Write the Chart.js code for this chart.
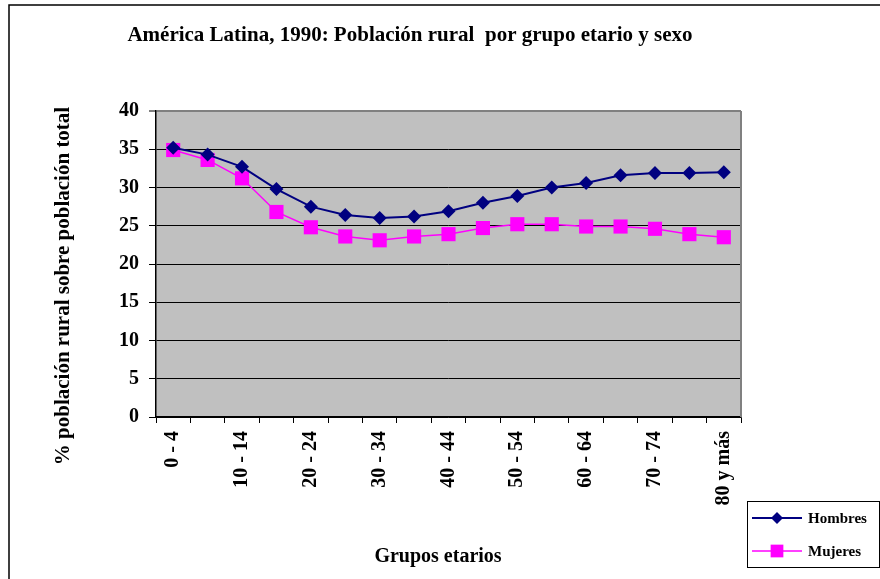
<!DOCTYPE html>
<html>
<head>
<meta charset="utf-8">
<script src="https://cdn.jsdelivr.net/npm/chart.js@4"></script>
<style>
  html, body { margin: 0; padding: 0; background: #fff; }
  #wrap { position: relative; width: 880px; height: 579px; }
</style>
</head>
<body>
<div id="wrap"><canvas id="chart" width="880" height="579"></canvas></div>
<script>
const TITLE = 'América Latina, 1990: Población rural  por grupo etario y sexo';
const Y_TITLE = '% población rural sobre población total';
const X_TITLE = 'Grupos etarios';

const GROUPS = ['0 - 4', '5 - 9', '10 - 14', '15 - 19', '20 - 24', '25 - 29', '30 - 34', '35 - 39',
  '40 - 44', '45 - 49', '50 - 54', '55 - 59', '60 - 64', '65 - 69', '70 - 74', '75 - 79', '80 y más'];
const HOMBRES = [35.2, 34.3, 32.7, 29.8, 27.5, 26.4, 26.0, 26.2, 26.9, 28.0, 28.9, 30.0, 30.6, 31.6, 31.9, 31.9, 32.0];
const MUJERES = [34.9, 33.6, 31.2, 26.8, 24.8, 23.6, 23.1, 23.6, 23.9, 24.7, 25.2, 25.2, 24.9, 24.9, 24.6, 23.9, 23.5];
const Y_TICKS = [0, 5, 10, 15, 20, 25, 30, 35, 40];

const FONT = "'Liberation Serif', 'Times New Roman', serif";

// background, frame, titles, legend, outer border
const decor = {
  id: 'decor',
  beforeDraw(chart) {
    const { ctx, chartArea: a } = chart;
    ctx.save();
    ctx.fillStyle = '#fff';
    ctx.fillRect(0, 0, chart.width, chart.height);
    ctx.fillStyle = '#c0c0c0';
    ctx.fillRect(a.left, a.top, a.right - a.left, a.bottom - a.top);
    ctx.restore();
  },
  beforeDatasetsDraw(chart) {
    const { ctx, chartArea: a } = chart;
    ctx.save();
    ctx.strokeStyle = '#808080';
    ctx.lineWidth = 2;
    ctx.beginPath();
    ctx.moveTo(a.right, a.top);
    ctx.lineTo(a.right, a.bottom);
    ctx.stroke();
    ctx.restore();
  },
  afterDraw(chart) {
    const { ctx } = chart;
    ctx.save();
    // outer border
    ctx.strokeStyle = '#000';
    ctx.lineWidth = 1.5;
    ctx.beginPath();
    ctx.moveTo(9, 579);
    ctx.lineTo(9, 5);
    ctx.lineTo(880, 5);
    ctx.stroke();

    ctx.fillStyle = '#000';
    ctx.textAlign = 'center';
    ctx.textBaseline = 'middle';
    ctx.font = `bold 21px ${FONT}`;
    ctx.fillText(TITLE, 410, 36);
    ctx.font = `bold 20px ${FONT}`;
    ctx.fillText(X_TITLE, 438, 557);

    ctx.save();
    ctx.font = `bold 21px ${FONT}`;
    ctx.translate(64, 286);
    ctx.rotate(-Math.PI / 2);
    ctx.fillText(Y_TITLE, 0, 0);
    ctx.restore();

    // legend box
    ctx.lineWidth = 1;
    ctx.strokeStyle = '#000';
    ctx.strokeRect(747.5, 501.5, 132, 66);
    ctx.font = `bold 15px ${FONT}`;
    ctx.textAlign = 'left';
    chart.data.datasets.forEach((ds, i) => {
      const y = 518 + i * 33;
      ctx.strokeStyle = ds.borderColor;
      ctx.lineWidth = ds.borderWidth;
      ctx.beginPath();
      ctx.moveTo(752, y);
      ctx.lineTo(802, y);
      ctx.stroke();
      ctx.fillStyle = ds.backgroundColor;
      Chart.helpers.drawPoint(ctx, { pointStyle: ds.pointStyle, radius: ds.legendRadius, borderWidth: 0, rotation: 0 }, 777, y);
      ctx.fillStyle = '#000';
      ctx.fillText(ds.label, 808, y + 1);
    });
    ctx.restore();
  }
};

new Chart(document.getElementById('chart'), {
  type: 'line',
  data: {
    labels: GROUPS,
    datasets: [
      {
        label: 'Hombres', data: HOMBRES,
        borderColor: '#000080', backgroundColor: '#000080', borderWidth: 2,
        pointStyle: 'rectRot', pointRadius: 7, pointBorderWidth: 0, legendRadius: 6,
        tension: 0
      },
      {
        label: 'Mujeres', data: MUJERES,
        borderColor: '#ff00ff', backgroundColor: '#ff00ff', borderWidth: 1.5,
        pointStyle: 'rect', pointRadius: 10, pointBorderWidth: 0, legendRadius: 9,
        tension: 0
      }
    ]
  },
  options: {
    responsive: false,
    animation: false,
    layout: { padding: { top: 111, right: 139, left: 0, bottom: 0 } },
    plugins: { legend: { display: false }, title: { display: false }, tooltip: { enabled: false } },
    scales: {
      x: {
        offset: true,
        afterFit(scale) { scale.height = 162; },
        grid: { offset: true, drawOnChartArea: false, drawTicks: true, tickLength: 6, tickColor: '#000', tickWidth: 1 },
        border: { color: '#000', width: 1.5 },
        ticks: {
          autoSkip: false, minRotation: 90, maxRotation: 90, padding: 8, color: '#000',
          font: { family: FONT, size: 20, weight: 'bold' },
          callback(v, i) { return i % 2 ? '' : GROUPS[i]; }
        }
      },
      y: {
        min: 0, max: 40,
        afterFit(scale) { scale.width = 156; },
        afterBuildTicks(scale) { scale.ticks = Y_TICKS.map(v => ({ value: v })); },
        grid: {
          color: c => c.tick && c.tick.value === 40 ? '#808080' : '#000',
          lineWidth: c => c.tick && c.tick.value === 40 ? 2 : 1,
          tickLength: 7, tickColor: '#000', tickWidth: 1
        },
        border: { color: '#000', width: 1.5 },
        ticks: {
          padding: 10, color: '#000',
          font: { family: FONT, size: 20, weight: 'bold' }
        }
      }
    }
  },
  plugins: [decor]
});
</script>
</body>
</html>
